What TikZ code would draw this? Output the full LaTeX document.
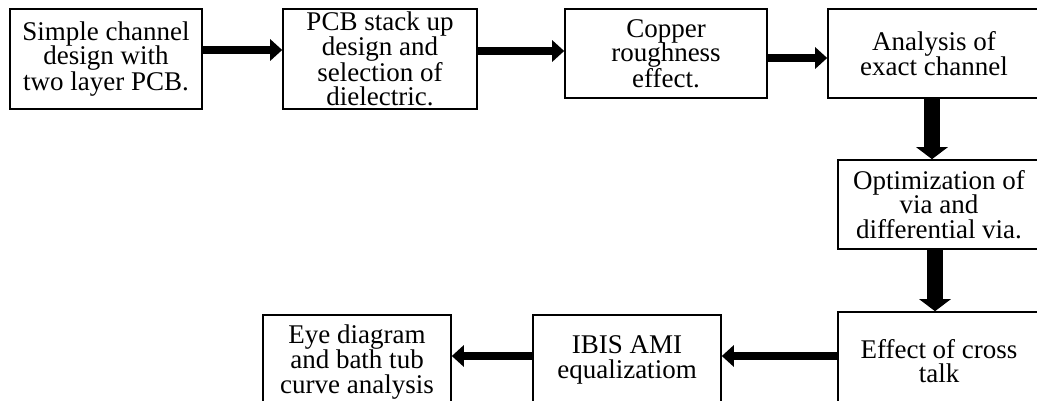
\documentclass[tikz,border=0pt]{standalone}
\usepackage{fontspec}
\setmainfont{Liberation Serif}
\usetikzlibrary{arrows.meta,positioning,calc}

\begin{document}
\begin{tikzpicture}[
    x=1pt, y=-1pt,
    block/.style  = {draw, line width=1.6pt, inner sep=0pt, align=center,
                     font=\fontsize{27}{24.5}\selectfont},
    harrow/.style = {line width=8pt, -{Triangle[width=21pt,length=12pt]}},
    varrow/.style = {line width=16pt, -{Triangle[width=31pt,length=12pt]}},
  ]
	\useasboundingbox (0,0) rectangle (1037,400);
	\clip (0,0) rectangle (1037,400);

	% obere Reihe
	\node (simple) at (106,59) [block, minimum width=192pt, minimum height=100pt]
		{Simple channel\\design with\\two layer PCB.};
	\node (stack) at (380,59) [block, minimum width=194pt, minimum height=100pt]
		{PCB stack up\\design and\\selection of\\dielectric.};
	\node (copper) at (666,53.5) [block, minimum width=202pt, minimum height=89pt]
		{Copper\\roughness\\effect.};
	\node (exact) at (934,53.5) [block, minimum width=212pt, minimum height=89pt]
		{Analysis of\\exact channel};

	% rechte Spalte
	\node (via) at (939,204.5) [block, minimum width=202pt, minimum height=89pt]
		{Optimization of\\via and\\differential via.};
	\node (cross) at (939,361) [block, minimum width=202pt, minimum height=98pt]
		{Effect of cross\\talk};

	% untere Reihe
	\node (ibis) at (627,360) [block, minimum width=188pt, minimum height=90pt]
		{IBIS AMI\\equalizatiom};
	\node (eye) at (357,362) [block, minimum width=188pt, minimum height=94pt]
		{Eye diagram\\and bath tub\\curve analysis};

	% Pfeile nach rechts
	\draw[harrow] ([yshift=9pt]simple.east) -- ([yshift=9pt]simple.east -| stack.west);
	\draw[harrow] ([yshift=8pt]stack.east) -- ([yshift=8pt]stack.east -| copper.west);
	\draw[harrow] ([yshift=-4.5pt]copper.east) -- ([yshift=-4.5pt]copper.east -| exact.west);

	% Pfeile nach unten
	\draw[varrow] ([xshift=-2pt]exact.south) -- ([xshift=-2pt]exact.south |- via.north);
	\draw[varrow] ([xshift=-4pt]via.south) -- ([xshift=-4pt]via.south |- cross.north);

	% Pfeile nach links
	\draw[harrow] ([yshift=5pt]cross.west) -- ([yshift=5pt]cross.west -| ibis.east);
	\draw[harrow] ([yshift=4pt]ibis.west) -- ([yshift=4pt]ibis.west -| eye.east);

\end{tikzpicture}
\end{document}
